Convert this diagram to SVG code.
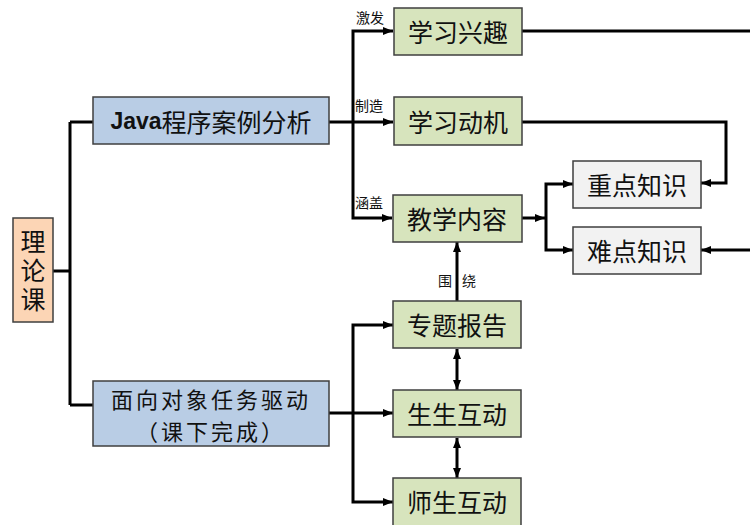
<svg xmlns="http://www.w3.org/2000/svg" width="750" height="525" viewBox="0 0 750 525">
<style>
.box{stroke:#3f3f3f;stroke-width:1.5}
.g{fill:#d7e4bd}.b{fill:#b9cde5}.o{fill:#fcd5b5}.w{fill:#f2f2f2}
.t{font-family:"Noto Sans CJK SC","Liberation Sans",sans-serif;font-size:25px;fill:#111;text-anchor:middle;dominant-baseline:central}
.lb{font-family:"Noto Sans CJK SC","Liberation Serif",serif;font-size:14px;fill:#111;dominant-baseline:central}
.c{fill:none;stroke:#000;stroke-width:3;stroke-linejoin:miter}
</style>
<defs>
<marker id="ah" markerUnits="userSpaceOnUse" markerWidth="10" markerHeight="10" viewBox="0 0 10 10" refX="10" refY="5" orient="auto-start-reverse">
<path d="M0,1 L10,5 L0,9 Z" fill="#000"/>
</marker>
</defs>
<g id="connectors">
<path class="c" d="M53,271 H70 M70,122 V405 M70,122 H93 M70,405 H93"/>
<path class="c" d="M329,122 H393" marker-end="url(#ah)"/>
<path class="c" d="M393,31 H353 V218 H392" marker-start="url(#ah)" marker-end="url(#ah)"/>
<path class="c" d="M522,31 H750"/>
<path class="c" d="M522,122 H726 V183 H701" marker-end="url(#ah)"/>
<path class="c" d="M750,250 H701" marker-end="url(#ah)"/>
<path class="c" d="M522,218 H545" marker-end="url(#ah)"/>
<path class="c" d="M573,184 H546 V250 H573" marker-start="url(#ah)" marker-end="url(#ah)"/>
<path class="c" d="M457,301 V242" marker-end="url(#ah)"/>
<path class="c" d="M329,413 H393" marker-end="url(#ah)"/>
<path class="c" d="M393,325 H353 V502 H393" marker-start="url(#ah)" marker-end="url(#ah)"/>
<path class="c" d="M457,349 V390" marker-start="url(#ah)" marker-end="url(#ah)"/>
<path class="c" d="M457,438 V478" marker-start="url(#ah)" marker-end="url(#ah)"/>
<text class="lb" x="356" y="17">激发</text>
<text class="lb" x="355" y="105">制造</text>
<text class="lb" x="355" y="202">涵盖</text>
<text class="lb" x="438" y="280">围</text>
<text class="lb" x="462" y="280">绕</text>
</g>
<g id="n-lilunke"><rect class="box o" x="13" y="218" width="40" height="104"/>
<text class="t" x="33" y="229" style="writing-mode:vertical-rl;text-anchor:start;letter-spacing:4px">理论课</text></g>
<g id="n-java"><rect class="box b" x="93" y="97" width="236" height="47"/>
<text class="t" x="211" y="121"><tspan font-family="Liberation Sans" font-weight="bold" font-size="23">Java</tspan>程序案例分析</text></g>
<g id="n-mianxiang"><rect class="box b" x="93" y="381" width="236" height="65"/>
<text class="t" x="211" y="398" style="font-size:22px;letter-spacing:3px">面向对象任务驱动</text>
<text class="t" x="211" y="430" style="font-size:22px;letter-spacing:3px">（课下完成）</text></g>
<g id="n-xingqu"><rect class="box g" x="394" y="8" width="128" height="47"/><text class="t" x="458" y="31">学习兴趣</text></g>
<g id="n-dongji"><rect class="box g" x="394" y="97" width="128" height="48"/><text class="t" x="458" y="121">学习动机</text></g>
<g id="n-neirong"><rect class="box g" x="393" y="195" width="129" height="47"/><text class="t" x="457" y="218">教学内容</text></g>
<g id="n-zhongdian"><rect class="box w" x="573" y="161" width="128" height="47"/><text class="t" x="637" y="184">重点知识</text></g>
<g id="n-nandian"><rect class="box w" x="573" y="227" width="128" height="47"/><text class="t" x="637" y="250">难点知识</text></g>
<g id="n-baogao"><rect class="box g" x="393" y="301" width="128" height="47"/><text class="t" x="457" y="324">专题报告</text></g>
<g id="n-shengsheng"><rect class="box g" x="393" y="390" width="128" height="47"/><text class="t" x="457" y="413">生生互动</text></g>
<g id="n-shisheng"><rect class="box g" x="393" y="478" width="128" height="48"/><text class="t" x="457" y="501">师生互动</text></g>
</svg>
